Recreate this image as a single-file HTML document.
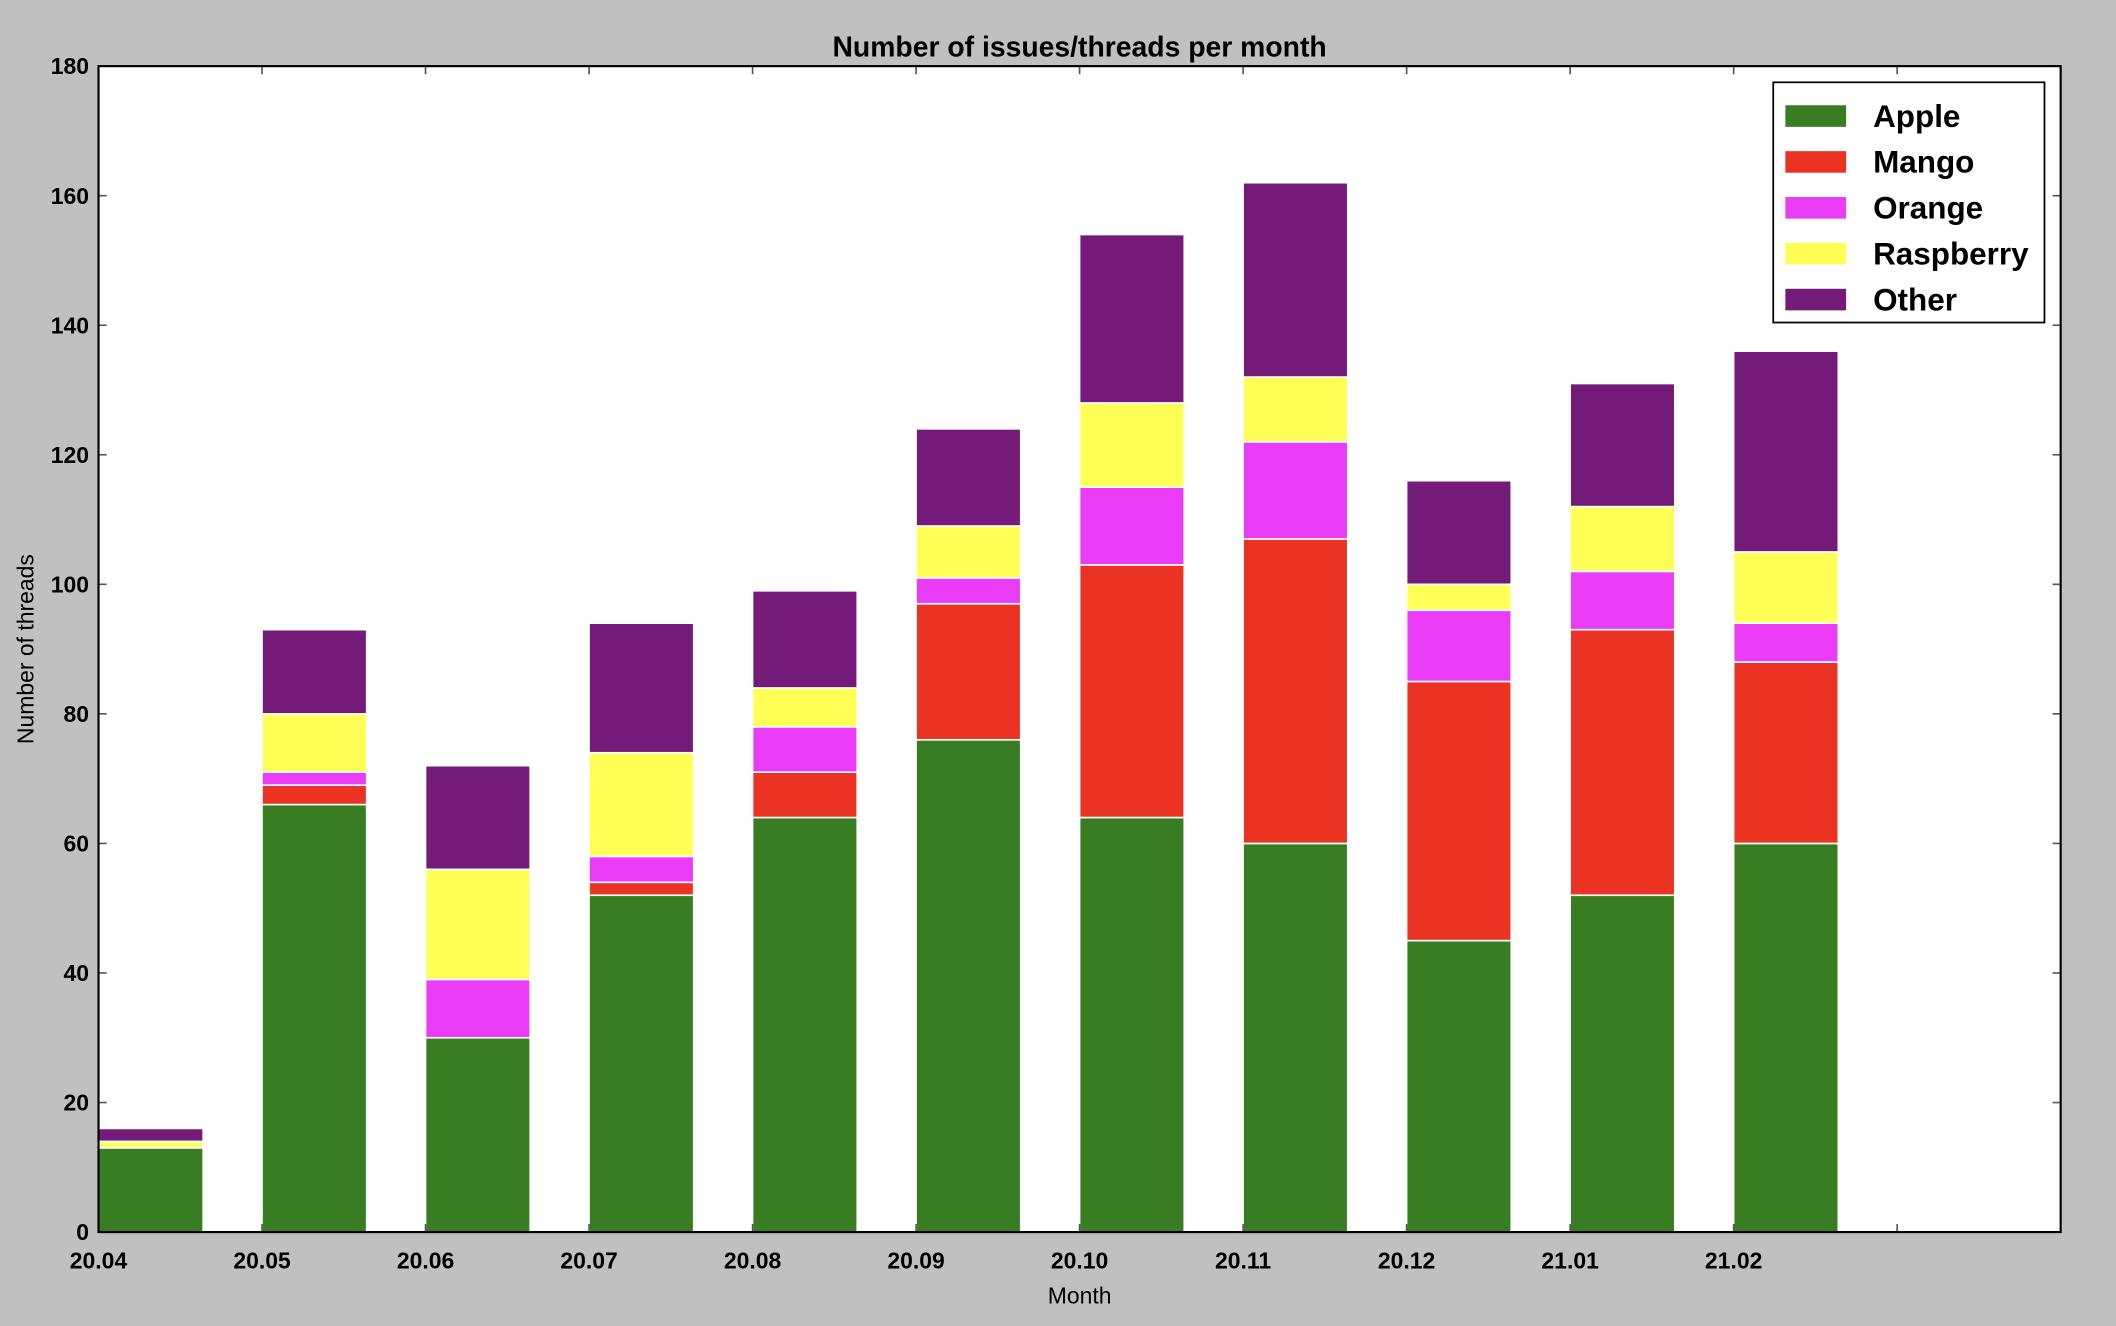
<!DOCTYPE html>
<html><head><meta charset="utf-8"><style>
html,body{margin:0;padding:0;background:#c0c0c0;}
svg{display:block;font-family:"Liberation Sans",sans-serif;}
</style></head><body>
<svg id="chart" width="2116" height="1326" viewBox="0 0 1568 982.6" preserveAspectRatio="none" xmlns="http://www.w3.org/2000/svg">
<rect x="0" y="0" width="1568" height="983" fill="#c0c0c0"/>
<rect x="73" y="49" width="1454" height="864" fill="#ffffff"/>
<text x="800" y="42" text-anchor="middle" font-size="21" font-weight="bold">Number of issues/threads per month</text>
<text x="800" y="966" text-anchor="middle" font-size="17">Month</text>
<text transform="translate(25,481) rotate(-90)" text-anchor="middle" font-size="17">Number of threads</text>
<g id="bars"></g>
<g id="axes"></g>
<g id="legend"></g>
</svg>
<script>
const categories = ["20.04","20.05","20.06","20.07","20.08","20.09","20.10","20.11","20.12","21.01","21.02"];
const seriesNames = ["Apple","Mango","Orange","Raspberry","Other"];
const apple     = [13,66,30,52,64,76,64,60,45,52,60];
const mango     = [0,3,0,2,7,21,39,47,40,41,28];
const orange    = [0,2,9,4,7,4,12,15,11,9,6];
const raspberry = [1,9,17,16,6,8,13,10,4,10,11];
const other     = [2,13,16,20,15,15,26,30,16,19,31];
const yTicks = [0,20,40,60,80,100,120,140,160,180];
const colors = ["#387d22","#ea3323","#ea3cf7","#ffff55","#741b7a"];
const series = [apple,mango,orange,raspberry,other];

const NS="http://www.w3.org/2000/svg";
const L=73,R=1527,T=49,B=913,XMAX=12,YMAX=180,BW=0.64;
const xs=v=>L+(R-L)*v/XMAX;
const ys=v=>B-(B-T)*v/YMAX;
function mk(tag,attrs,parent){const e=document.createElementNS(NS,tag);for(const k in attrs)e.setAttribute(k,attrs[k]);parent.appendChild(e);return e;}
const gb=document.getElementById('bars');
categories.forEach((c,i)=>{
  let base=0;
  series.forEach((s,j)=>{
    const v=s[i];
    if(v>0){
      const r=mk('rect',{x:xs(i),y:ys(base+v),width:xs(i+BW)-xs(i),height:ys(base)-ys(base+v),fill:colors[j],stroke:'#ffffff','stroke-width':1.2},gb);
      
      
    }
    base+=v;
  });
});
const ga=document.getElementById('axes');
yTicks.forEach(t=>{
  const y=ys(t);
  mk('line',{x1:L,x2:L+6,y1:y,y2:y,stroke:'#555','stroke-width':1.2},ga);
  mk('line',{x1:R,x2:R-6,y1:y,y2:y,stroke:'#555','stroke-width':1.2},ga);
  const tx=mk('text',{x:L-7,y:y+6,'text-anchor':'end','font-size':17,'font-weight':'bold'},ga);
  tx.textContent=t;
  
  
});
for(let i=0;i<=XMAX;i++){
  const x=xs(i);
  mk('line',{x1:x,x2:x,y1:B,y2:B-6,stroke:'#555','stroke-width':1.2},ga);
  mk('line',{x1:x,x2:x,y1:T,y2:T+6,stroke:'#555','stroke-width':1.2},ga);
}
categories.forEach((c,i)=>{
  const tx=mk('text',{x:xs(i),y:940,'text-anchor':'middle','font-size':17,'font-weight':'bold'},ga);
  tx.textContent=c;
  
  
});
const frame=mk('rect',{x:L,y:T,width:R-L,height:B-T,fill:'none',stroke:'#000','stroke-width':1.6},ga);


const gl=document.getElementById('legend');


mk('rect',{x:1314,y:61,width:201,height:178,fill:'#fff',stroke:'#000','stroke-width':1.3},gl);
seriesNames.forEach((n,j)=>{
  const cy=86+j*34;
  const sw=mk('rect',{x:1323,y:cy-8,width:45,height:16,fill:colors[j]},gl);
  
  
  const tx=mk('text',{x:1388,y:cy+8,'font-size':23.3,'font-weight':'bold'},gl);
  tx.textContent=n;
  
  
});
</script>
</body></html>
